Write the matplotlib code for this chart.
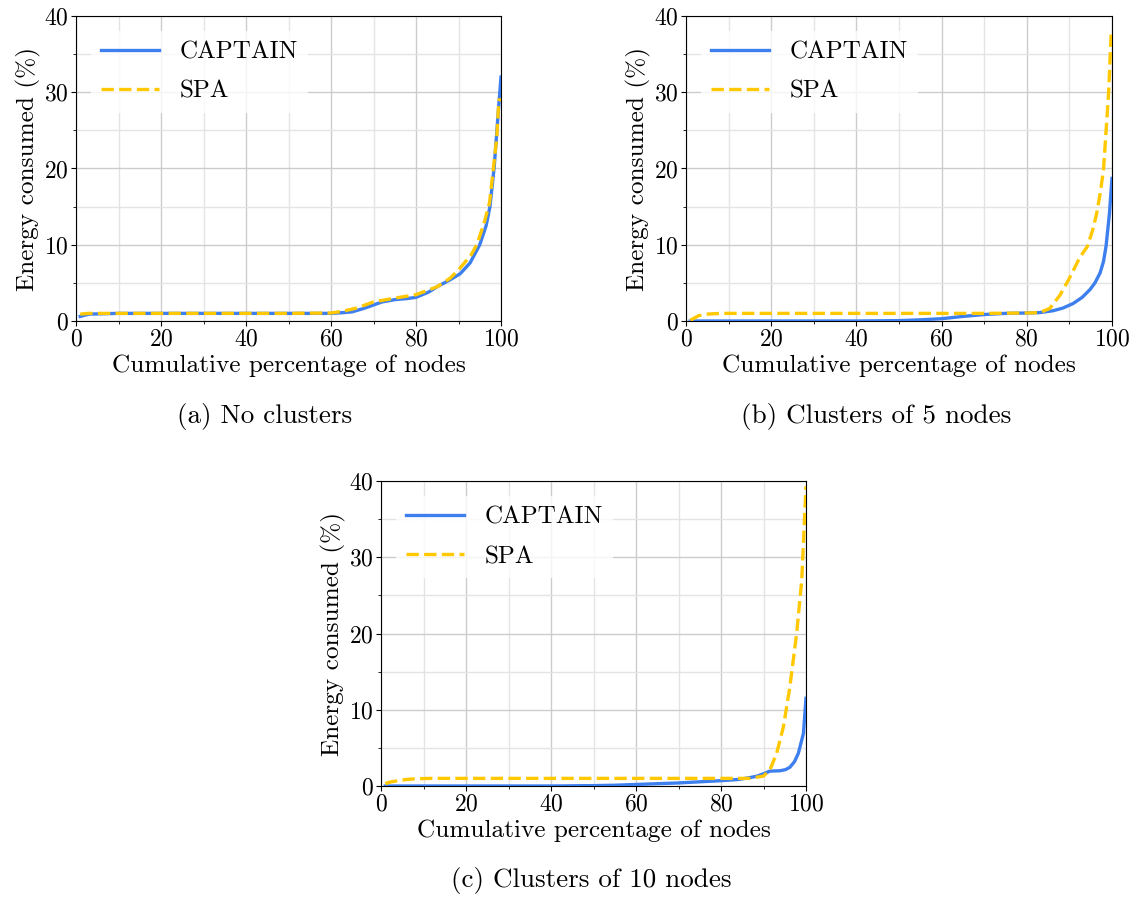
import matplotlib
matplotlib.use("Agg")
import matplotlib.pyplot as plt
from matplotlib.ticker import MultipleLocator

plt.rcParams['font.family'] = 'cmr10'
plt.rcParams['mathtext.fontset'] = 'cm'
plt.rcParams['axes.formatter.use_mathtext'] = True

# ---- data ----
# (a) No clusters
a_cap_x = [1, 3, 10, 20, 30, 40, 50, 60, 63, 65, 68, 70, 72, 75, 78, 80, 83, 85, 88, 90.4, 92.7, 95, 96.5, 97.4, 98.4, 99.4, 100]
a_cap_y = [0.6, 0.9, 1.0, 1.0, 1.0, 1.0, 1.0, 1.0, 1.1, 1.2, 1.7, 2.1, 2.5, 2.8, 2.95, 3.1, 3.8, 4.5, 5.4, 6.2, 7.6, 10.0, 12.5, 15.0, 20.2, 27.7, 32.0]
a_spa_x = [1, 3, 10, 20, 30, 40, 50, 60, 63, 66, 70, 75, 80, 85, 88, 90, 93, 94.3, 96, 97.3, 98.2, 99, 99.5, 100]
a_spa_y = [0.9, 1.0, 1.0, 1.0, 1.0, 1.0, 1.0, 1.05, 1.3, 1.7, 2.5, 3.0, 3.45, 4.5, 5.6, 6.7, 8.7, 10.0, 12.8, 15.5, 20.0, 24.0, 29.0, 29.0]

# (b) Clusters of 5 nodes
b_cap_x = [1, 10, 20, 30, 40, 50, 55, 60, 65, 70, 75, 80, 83, 86.2, 88.5, 90.9, 93, 94.8, 96, 97.2, 98.0, 98.6, 99.4, 100]
b_cap_y = [0.0, 0.0, 0.0, 0.0, 0.0, 0.05, 0.15, 0.3, 0.6, 0.85, 1.0, 1.05, 1.1, 1.35, 1.7, 2.3, 3.1, 4.1, 5.0, 6.3, 7.8, 9.8, 14.1, 18.7]
b_spa_x = [1, 2, 3, 5, 8, 20, 40, 60, 70, 80, 83, 85.4, 87.8, 89.8, 92.5, 94.2, 95.5, 96.4, 97.3, 98.0, 99.2, 99.8]
b_spa_y = [0.1, 0.4, 0.7, 0.9, 1.0, 1.0, 1.0, 1.0, 1.0, 1.05, 1.1, 1.65, 3.4, 5.4, 8.4, 9.75, 12.0, 14.1, 17.0, 19.8, 29.9, 37.7]

# (c) Clusters of 10 nodes
c_cap_x = [1, 10, 20, 30, 40, 50, 55, 60, 65, 70, 75, 80, 84, 86.8, 88.5, 90.0, 91.5, 93.9, 95.2, 96.2, 97.3, 98.2, 99.4, 100]
c_cap_y = [0.0, 0.0, 0.0, 0.0, 0.0, 0.05, 0.1, 0.2, 0.3, 0.4, 0.55, 0.7, 0.85, 1.1, 1.3, 1.6, 1.95, 2.0, 2.15, 2.45, 3.2, 4.3, 6.9, 11.5]
c_spa_x = [1, 2, 4, 6, 8, 12, 20, 40, 60, 80, 86.8, 90.0, 91.5, 93.1, 94.7, 96.2, 97.8, 99.0, 100]
c_spa_y = [0.3, 0.5, 0.7, 0.85, 0.95, 1.0, 1.0, 1.0, 1.0, 1.0, 1.0, 1.3, 2.1, 4.3, 7.8, 13.0, 20.0, 27.0, 39.3]

series_labels = ["CAPTAIN", "SPA"]
captions = ["(a) No clusters", "(b) Clusters of 5 nodes", "(c) Clusters of 10 nodes"]
xlabel = "Cumulative percentage of nodes"
ylabel = "Energy consumed (%)"

CAP_COLOR = "#3d7fef"
SPA_COLOR = "#ffc800"
FS_TICK = 17
FS_LABEL = 18.2
FS_LEG = 18
FS_CAP = 19.5

W, H = 1138, 898
fig = plt.figure(figsize=(W / 100, H / 100), dpi=100)

def axes_px(left, right, top, bottom):
    return fig.add_axes([left / W, 1 - bottom / H, (right - left) / W, (bottom - top) / H])

panels = [
    (axes_px(76, 501, 16, 321), a_cap_x, a_cap_y, a_spa_x, a_spa_y, (265, 417)),
    (axes_px(686, 1112, 16, 321), b_cap_x, b_cap_y, b_spa_x, b_spa_y, (876, 417)),
    (axes_px(381, 806, 481, 786), c_cap_x, c_cap_y, c_spa_x, c_spa_y, (591, 881)),
]

for (ax, cx, cy, sx, sy, cap_pos), cap in zip(panels, captions):
    ax.plot(cx, cy, color=CAP_COLOR, lw=2.4, label=series_labels[0], zorder=3)
    ax.plot(sx, sy, color=SPA_COLOR, lw=2.4, ls="--", label=series_labels[1], zorder=4)
    ax.set_xlim(0, 100)
    ax.set_ylim(0, 40)
    ax.xaxis.set_major_locator(MultipleLocator(20))
    ax.xaxis.set_minor_locator(MultipleLocator(10))
    ax.yaxis.set_major_locator(MultipleLocator(10))
    ax.yaxis.set_minor_locator(MultipleLocator(5))
    ax.grid(True, which="major", color="#cccccc", lw=1.0)
    ax.grid(True, which="minor", color="#e4e4e4", lw=1.0)
    ax.set_axisbelow(True)
    ax.tick_params(labelsize=FS_TICK, pad=2)
    ax.set_xlabel(xlabel, fontsize=FS_LABEL, labelpad=3)
    ax.set_ylabel(ylabel, fontsize=FS_LABEL, labelpad=2)
    leg = ax.legend(loc="upper left", fontsize=FS_LEG, frameon=True, handlelength=2.3,
                    handletextpad=0.85, labelspacing=0.68, borderaxespad=0.6, borderpad=0.4)
    leg.get_frame().set_edgecolor("none")
    leg.get_frame().set_facecolor("white")
    leg.get_frame().set_alpha(0.8)
    fig.text(cap_pos[0] / W, 1 - cap_pos[1] / H, cap, fontsize=FS_CAP, ha="center", va="center")

fig.savefig("out.png", dpi=100)
